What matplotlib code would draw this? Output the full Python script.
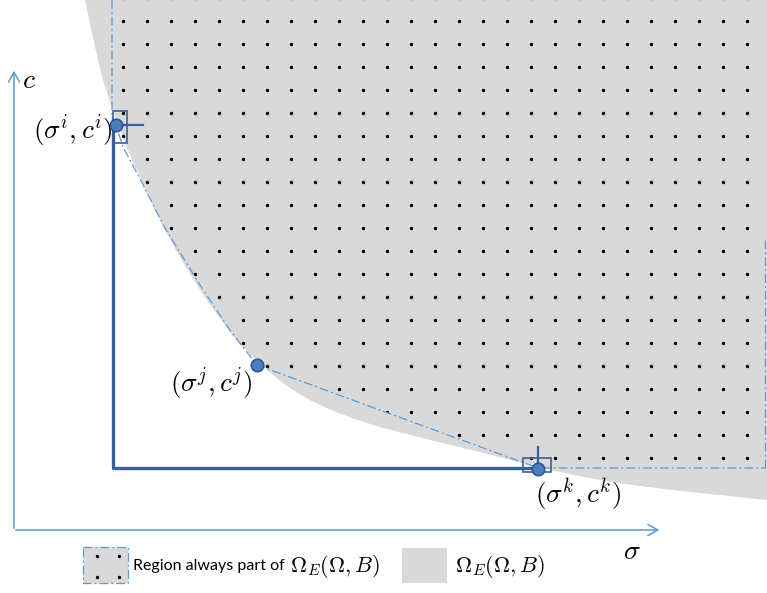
import numpy as np
import matplotlib.pyplot as plt
from matplotlib.path import Path
from matplotlib.patches import PathPatch, Polygon, Rectangle, FancyArrowPatch

plt.rcParams['mathtext.fontset'] = 'cm'

# colours
gray = "#d9d9d9"
light_blue = "#5b9bd5"
dark_blue = "#3b5f99"
pt_face = "#4a7ebb"
pt_edge = "#2f5597"

# canvas units are pixels, y downwards
W, H = 767, 593

# solution points (sigma, c)
pt_names = ["i", "j", "k"]
pt_x = [116, 257, 538]
pt_y = [125, 365, 469]

# outer boundary of Omega_E(Omega, B)
omega_x = [85, 97, 112, 140, 180, 227, 257, 300, 360, 430, 500, 540, 623, 767]
omega_y = [0, 60, 110, 180, 260, 330, 362, 397, 422, 440, 457, 468, 485, 500]

# boundary of the region always included
always_x = [112, 112, 116, 123, 137, 165, 200, 232, 257, 538, 765, 765]
always_y = [0, 118, 125, 147, 173, 228, 285, 333, 365, 468, 468, 0]

# dot grid inside that region
dot_cols = np.arange(122.7, 760, 24.0)
dot_rows = np.arange(-2, 470, 23.0)


def smooth_path(xs, ys):
    # quadratic B-spline through midpoints of the control points
    p = list(zip(xs, ys))
    verts = [p[0]]
    codes = [Path.MOVETO]
    for a, b in zip(p[1:-1], p[2:]):
        verts += [a, ((a[0] + b[0]) / 2, (a[1] + b[1]) / 2)]
        codes += [Path.CURVE3, Path.CURVE3]
    verts.append(p[-1])
    codes.append(Path.LINETO)
    return verts, codes


fig = plt.figure(figsize=(W / 100, H / 100), dpi=100)
ax = fig.add_axes([0, 0, 1, 1])
ax.set_xlim(0, W)
ax.set_ylim(H, 0)
ax.axis('off')

# gray region
v, c = smooth_path(omega_x, omega_y)
v += [(W + 5, omega_y[-1]), (W + 5, -5), (omega_x[0], -5), (0, 0)]
c += [Path.LINETO, Path.LINETO, Path.LINETO, Path.CLOSEPOLY]
ax.add_patch(PathPatch(Path(v, c), fc=gray, ec='none', zorder=1))

# region always part of Omega_E, dotted
region = Polygon(np.column_stack([always_x, always_y]), closed=True,
                 fc='none', ec='none', zorder=2)
ax.add_patch(region)
gx, gy = np.meshgrid(dot_cols, dot_rows)
dots = ax.scatter(gx.ravel(), gy.ravel(), s=6, c='black', lw=0, zorder=3)
dots.set_clip_path(region)

dashdot = (0, (7, 2.5, 1.5, 2.5))
ax.plot(always_x[:-1], always_y[:-1], color=light_blue, lw=0.9,
        ls=dashdot, zorder=4)
ax.plot([765, 765], [468, 240], color=light_blue, lw=0.9, ls=dashdot, zorder=4)

# axes arrows
ax.add_patch(FancyArrowPatch((14, 531), (14, 68), arrowstyle='->,head_width=4,head_length=7',
                             color=light_blue, lw=1.1, mutation_scale=1, zorder=5))
ax.add_patch(FancyArrowPatch((13, 530), (662, 530), arrowstyle='->,head_width=4,head_length=7',
                             color=light_blue, lw=1.1, mutation_scale=1, zorder=5))
ax.text(22, 80, r'$c$', fontsize=20, ha='left', va='center')
ax.text(632, 551, r'$\sigma$', fontsize=20, ha='center', va='center')

# L-shaped dominated bound
ax.plot([113, 113, pt_x[2]], [pt_y[0], 468, 468], color=dark_blue, lw=2.4,
        solid_capstyle='butt', zorder=5)

# box and whisker marks at the extreme points
ax.add_patch(Rectangle((113, 111), 14, 32, fc='none', ec=dark_blue, lw=1.2, zorder=6))
ax.plot([pt_x[0], 143], [pt_y[0], pt_y[0]], color=dark_blue, lw=1.6, zorder=6)
ax.add_patch(Rectangle((523, 458), 28, 14, fc='none', ec=dark_blue, lw=1.2, zorder=6))
ax.plot([pt_x[2], pt_x[2]], [447, pt_y[2]], color=dark_blue, lw=1.6, zorder=6)

ax.scatter(pt_x, pt_y, s=80, c=pt_face, edgecolors=pt_edge, lw=1.2, zorder=7)

ax.text(73, 131, r'$(\sigma^i, c^i)$', fontsize=19.5, ha='center', va='center')
ax.text(211, 384, r'$(\sigma^j, c^j)$', fontsize=19.5, ha='center', va='center')
ax.text(578, 495, r'$(\sigma^k, c^k)$', fontsize=19.5, ha='center', va='center')

# legend
ax.add_patch(Rectangle((83, 547), 45, 36, fc=gray, ec=light_blue, lw=0.9,
                       ls=dashdot, zorder=5))
ax.scatter([97, 119, 97, 119], [556, 556, 577, 577], s=6, c='black', lw=0, zorder=6)
ax.text(133, 566, 'Region always part of', fontsize=11.5, family='Lato',
        ha='left', va='center')
ax.text(290, 566, r'$\Omega_E(\Omega, B)$', fontsize=16, ha='left', va='center')
ax.add_patch(Rectangle((402, 548), 45, 35, fc=gray, ec='none', zorder=5))
ax.text(455, 566, r'$\Omega_E(\Omega, B)$', fontsize=16, ha='left', va='center')

fig.savefig('out.png', dpi=100)
